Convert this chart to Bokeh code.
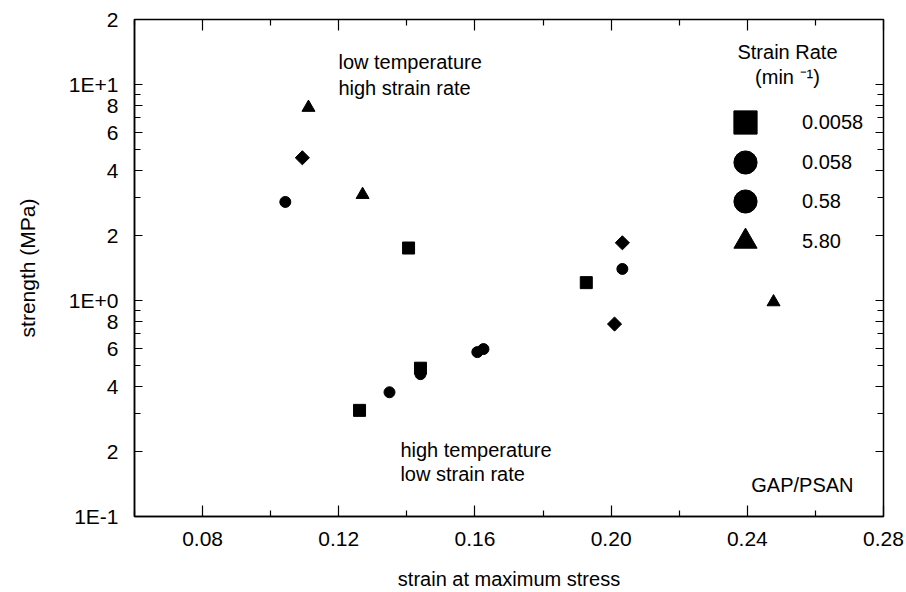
import math
from bokeh.plotting import figure
from bokeh.models import (FixedTicker, LinearAxis, LogAxis, Legend, LegendItem,
                          Label, ColumnDataSource)
from bokeh.embed import file_html
from bokeh.resources import INLINE

FONT = "Liberation Sans"

# ---- data ----
rate_labels = ["0.0058", "0.058", "0.58", "5.80"]

sq_x = [0.1405, 0.1261, 0.1927, 0.1440]
sq_y = [1.75, 0.310, 1.21, 0.486]

c1_x = [0.1043, 0.1349, 0.1440, 0.1607, 0.1625, 0.2033]
c1_y = [2.86, 0.376, 0.456, 0.577, 0.596, 1.40]

dm_x = [0.1093, 0.2033, 0.2010]
dm_y = [4.58, 1.85, 0.778]

tr_x = [0.1111, 0.1270, 0.2477]
tr_y = [7.82, 3.09, 0.984]

x_ticks = [0.08, 0.12, 0.16, 0.20, 0.24, 0.28]
x_tick_labels = ["0.08", "0.12", "0.16", "0.20", "0.24", "0.28"]
x_minor = [0.06, 0.10, 0.14, 0.18, 0.22, 0.26]

y_ticks = [0.1, 0.2, 0.4, 0.6, 0.8, 1.0, 2.0, 4.0, 6.0, 8.0, 10.0, 20.0]
y_tick_labels = ["1E-1", "2", "4", "6", "8", "1E+0", "2", "4", "6", "8", "1E+1", "2"]
y_minor = [0.3, 0.5, 0.7, 0.9, 3.0, 5.0, 7.0, 9.0]

p = figure(width=906, height=592, x_range=(0.06, 0.28), y_range=(0.1, 20),
           y_axis_type="log", output_backend="svg", toolbar_location=None,
           min_border_left=134, min_border_right=23, min_border_top=19,
           min_border_bottom=76, background_fill_color="white",
           border_fill_color="white")
p.xgrid.visible = False
p.ygrid.visible = False
p.outline_line_color = "black"
p.outline_line_width = 1.5
p.outline_line_alpha = 1.0

xt = FixedTicker(ticks=x_ticks, minor_ticks=x_minor)
yt = FixedTicker(ticks=y_ticks, minor_ticks=y_minor)


def style(ax):
    ax.axis_line_color = "black"
    ax.axis_line_width = 1.5
    ax.major_tick_line_color = "black"
    ax.minor_tick_line_color = "black"
    ax.major_tick_line_width = 1.2
    ax.minor_tick_line_width = 1.2
    ax.major_tick_out = 0
    ax.minor_tick_out = 0
    ax.minor_tick_in = 6
    ax.major_label_text_font = FONT
    ax.major_label_text_color = "black"
    ax.axis_label_text_font = FONT
    ax.axis_label_text_font_style = "normal"
    ax.axis_label_text_color = "black"


def blank(ax, ticks):
    ax.major_label_overrides = {v: "" for v in ticks}
    ax.major_label_text_font_size = "8px"
    ax.major_label_standoff = 0
    ax.axis_line_color = None


xa = p.xaxis[0]
xa.ticker = xt
style(xa)
xa.major_tick_in = 11
xa.major_label_overrides = {v: s for v, s in zip(x_ticks, x_tick_labels)}
xa.major_label_text_font_size = "21px"
xa.major_label_standoff = 15
xa.axis_label = "strain at maximum stress"
xa.axis_label_text_font_size = "20px"
xa.axis_label_standoff = 19

ya = p.yaxis[0]
ya.ticker = yt
style(ya)
ya.major_tick_in = 8
ya.major_label_overrides = {v: s for v, s in zip(y_ticks, y_tick_labels)}
ya.major_label_text_font_size = "21px"
ya.major_label_standoff = 16
ya.axis_label = "strength (MPa)"
ya.axis_label_text_font_size = "21px"
ya.axis_label_standoff = 27

top = LinearAxis(ticker=xt)
style(top)
top.major_tick_in = 11
blank(top, x_ticks)
p.add_layout(top, "above")

right = LogAxis(ticker=yt)
style(right)
right.major_tick_in = 8
blank(right, y_ticks)
p.add_layout(right, "right")

r_sq = p.scatter(sq_x, sq_y, marker="square", size=12, color="black")
r_c1 = p.scatter(c1_x, c1_y, marker="circle", size=11, color="black")
dm_src = ColumnDataSource(dict(x=dm_x, y=dm_y))
# the original legend shows a circle swatch for 0.58; this circle sits hidden
# under each diamond and only serves as that legend swatch
r_dm_leg = p.scatter("x", "y", source=dm_src, marker="circle", size=8,
                     color="black")
r_dm = p.scatter("x", "y", source=dm_src, marker="square", size=10,
                 angle=math.pi / 4, color="black")
r_tr = p.scatter(tr_x, tr_y, marker="triangle", size=13, color="black")

leg_kw = dict(glyph_width=58, glyph_height=58, spacing=21, padding=0, margin=0,
              label_standoff=28, background_fill_alpha=0,
              border_line_color=None, label_text_font=FONT,
              label_text_font_size="20px", label_text_color="black")
legend_a = Legend(items=[
    LegendItem(label=rate_labels[0], renderers=[r_sq]),
    LegendItem(label=rate_labels[2], renderers=[r_dm_leg]),
], location=(582, 286), **leg_kw)
legend_b = Legend(items=[
    LegendItem(label=rate_labels[1], renderers=[r_c1]),
    LegendItem(label=rate_labels[3], renderers=[r_tr]),
], location=(582, 246), **leg_kw)
p.add_layout(legend_a)
p.add_layout(legend_b)


def note(x, y, text, align="left"):
    p.add_layout(Label(x=x, y=y, text=text, text_font=FONT,
                       text_font_size="20px", text_color="black",
                       text_align=align, text_baseline="middle"))


note(0.2518, 14.08, "Strain Rate", "center")
note(0.2518, 10.78, "(min \u207b\u00b9)", "center")
note(0.1199, 12.65, "low temperature")
note(0.1199, 9.68, "high strain rate")
note(0.1381, 0.2024, "high temperature")
note(0.1381, 0.1566, "low strain rate")
note(0.2712, 0.1393, "GAP/PSAN", "right")

open("out.html", "w").write(file_html(p, INLINE))
